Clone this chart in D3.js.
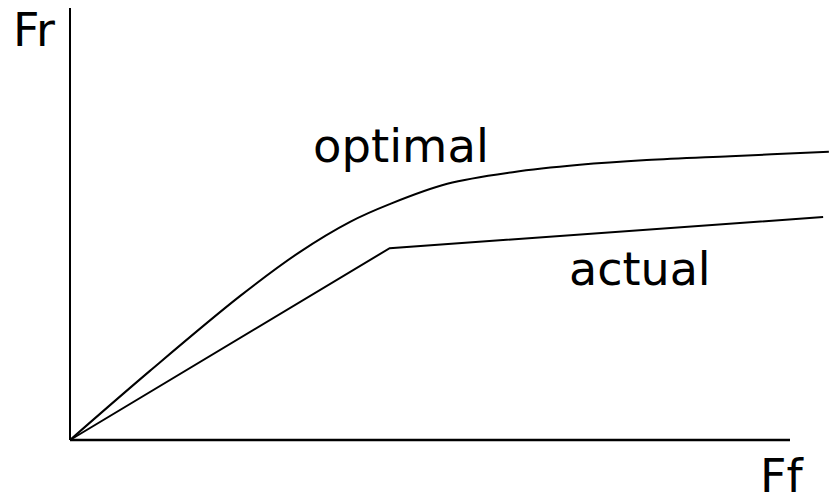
<!DOCTYPE html>
<html><head><meta charset="utf-8">
<script src="https://cdn.jsdelivr.net/npm/d3@7"></script>
<style>html,body{margin:0;padding:0;background:#fff;}</style>
</head><body>
<svg id="c" width="829" height="500"></svg>
<script>
// Data (arbitrary units: Ff on x, Fr on y)
const optimalFf = [0, 1.11, 2.36, 3.19, 3.89, 4.44, 5.24, 6.15, 7.08, 8.01, 9.17, 10.54];
const optimalFr = [0, 1.60, 3.33, 4.35, 5.05, 5.46, 5.93, 6.20, 6.37, 6.48, 6.57, 6.67];
const actualFf = [0, 4.44, 10.46];
const actualFr = [0, 4.44, 5.16];
const labels = {x: "Ff", y: "Fr", optimal: "optimal", actual: "actual"};

const svg = d3.select("#c");
const x = d3.scaleLinear().domain([0, 10]).range([70, 790]);
const y = d3.scaleLinear().domain([0, 10]).range([440, 8]);

// axes
svg.append("line").attr("x1", x(0)).attr("x2", x(0)).attr("y1", y(0)).attr("y2", y(10))
  .attr("stroke", "#000").attr("stroke-width", 2);
svg.append("line").attr("x1", x(0)).attr("x2", x(10)).attr("y1", y(0)).attr("y2", y(0))
  .attr("stroke", "#000").attr("stroke-width", 2.5);

const opt = optimalFf.map((d, i) => [d, optimalFr[i]]);
const act = actualFf.map((d, i) => [d, actualFr[i]]);

svg.append("path").datum(opt)
  .attr("d", d3.line().x(d => x(d[0])).y(d => y(d[1])).curve(d3.curveCatmullRom.alpha(0.5)))
  .attr("fill", "none").attr("stroke", "#000").attr("stroke-width", 2);
svg.append("path").datum(act)
  .attr("d", d3.line().x(d => x(d[0])).y(d => y(d[1])))
  .attr("fill", "none").attr("stroke", "#000").attr("stroke-width", 2);

const font = "'DejaVu Sans', Verdana, sans-serif";
const txt = (s, tx, ty, fs) => svg.append("text").attr("x", tx).attr("y", ty)
  .attr("font-family", font).attr("font-size", fs).attr("fill", "#000").text(s);
txt(labels.y, 13, 46, 46);
txt(labels.x, 760, 492, 46);
txt(labels.optimal, 313, 162, 46.5);
txt(labels.actual, 569, 285, 46);
</script>
</body></html>
